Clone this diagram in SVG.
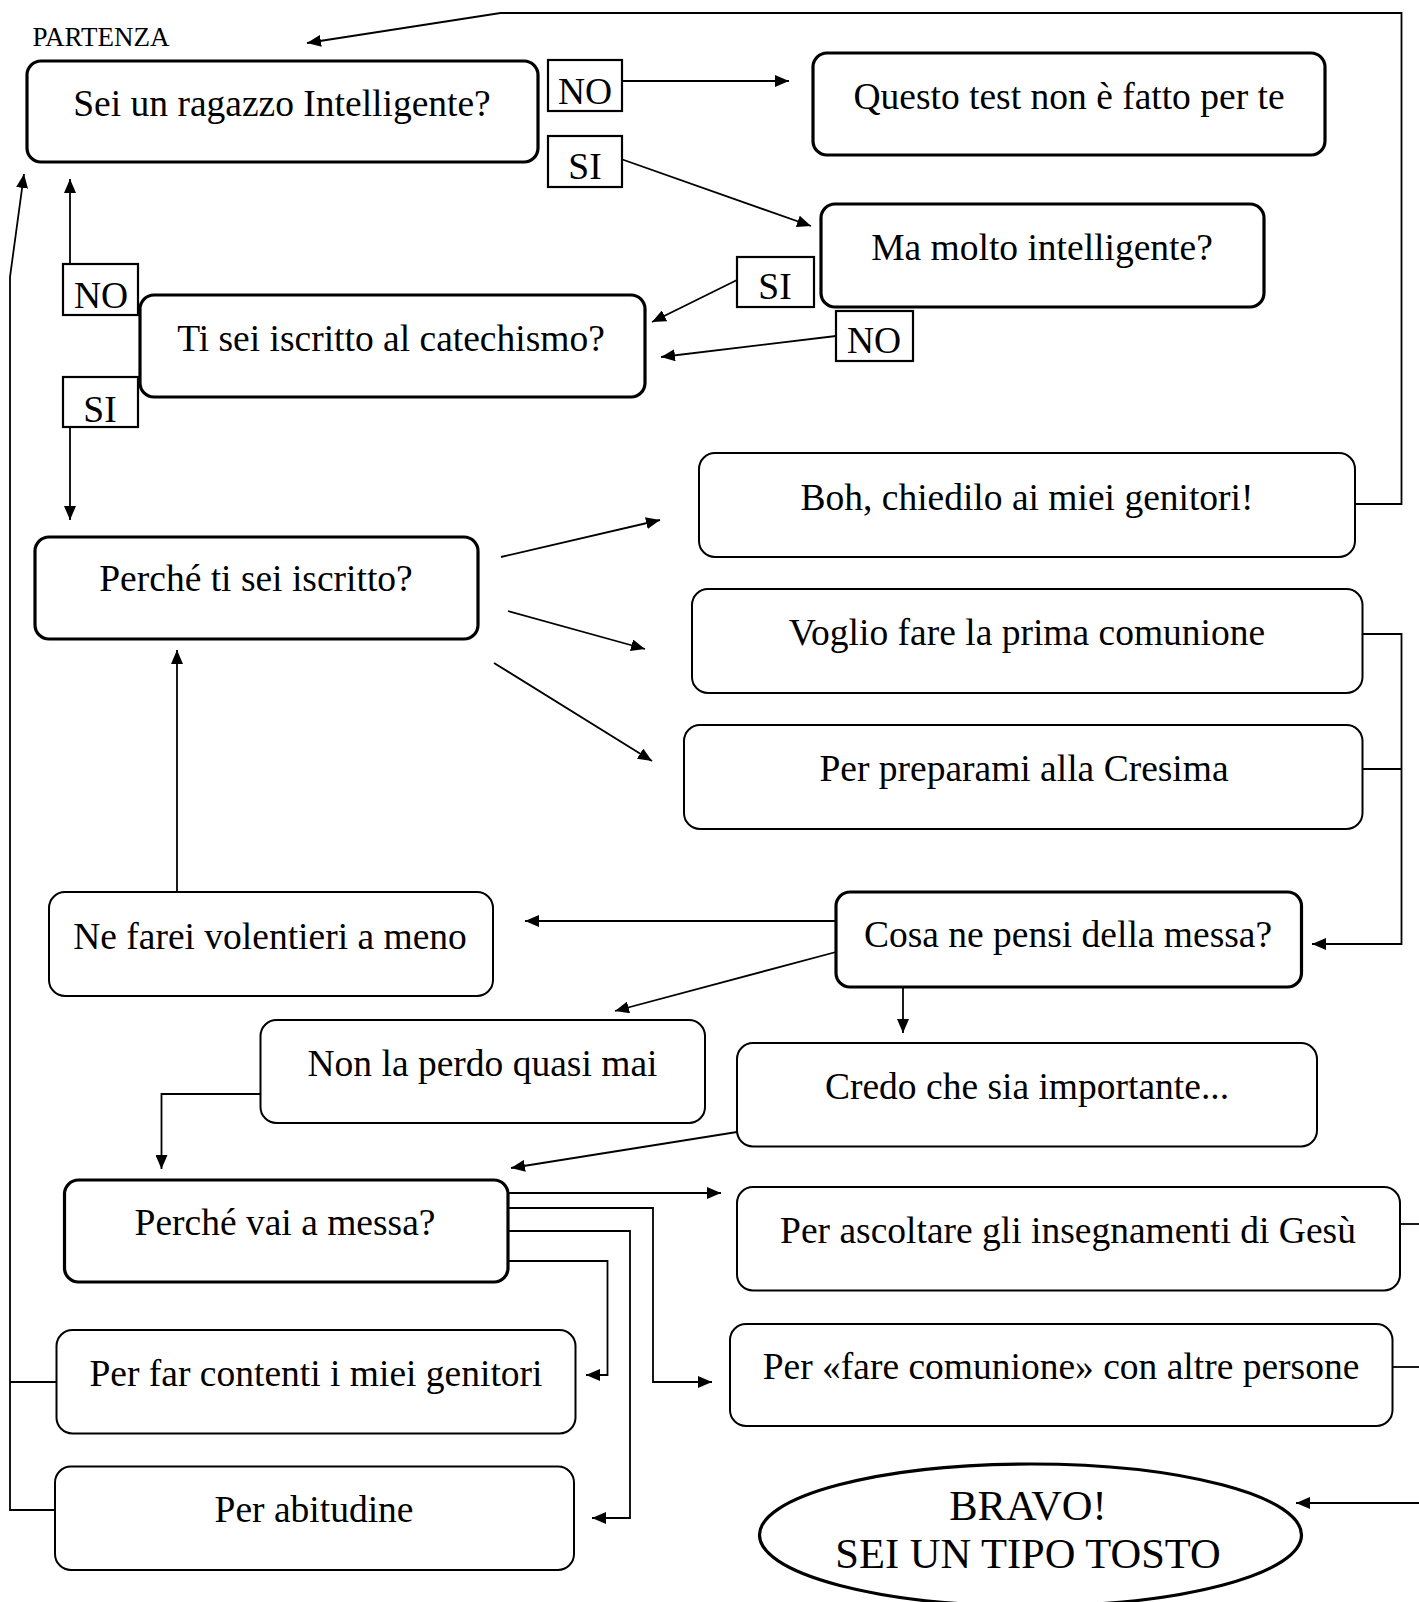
<svg xmlns="http://www.w3.org/2000/svg" width="1419" height="1602" viewBox="0 0 1419 1602">
<style>
text{font-family:"Liberation Serif","Times New Roman",serif;fill:#000;text-anchor:middle}
.t{font-size:37.5px}
.lb{font-size:37.5px}
.thick{fill:#fff;stroke:#000;stroke-width:3.2}
.thin{fill:#fff;stroke:#000;stroke-width:2}
.lbox{fill:#fff;stroke:#000;stroke-width:2.2}
.c{fill:none;stroke:#000;stroke-width:1.8}
</style>
<defs>
<marker id="ah" markerUnits="userSpaceOnUse" markerWidth="15" markerHeight="12" refX="14" refY="6" orient="auto">
<path d="M0,0 L14,6 L0,12 z" fill="#000"/>
</marker>
</defs>
<rect width="1419" height="1602" fill="#fff"/>
<g id="connectors">
<path class="c" d="M1355,504 H1401.5 V13 H500.5 L307,43" marker-end="url(#ah)"/>
<path class="c" d="M622,81 H789" marker-end="url(#ah)"/>
<path class="c" d="M621,159 L811,226" marker-end="url(#ah)"/>
<path class="c" d="M737,280 L652,322" marker-end="url(#ah)"/>
<path class="c" d="M836,336 L661,357" marker-end="url(#ah)"/>
<path class="c" d="M70,264 V179" marker-end="url(#ah)"/>
<path class="c" d="M70,427 V520" marker-end="url(#ah)"/>
<path class="c" d="M56,1382 H10"/>
<path class="c" d="M55,1510 H10 V277 L24,174" marker-end="url(#ah)"/>
<path class="c" d="M501,557 L660,520" marker-end="url(#ah)"/>
<path class="c" d="M508,611 L645,649" marker-end="url(#ah)"/>
<path class="c" d="M494,663 L652,761" marker-end="url(#ah)"/>
<path class="c" d="M1362,769 H1401.5"/>
<path class="c" d="M1362,634 H1401.5 V944 H1312" marker-end="url(#ah)"/>
<path class="c" d="M836,921 H525" marker-end="url(#ah)"/>
<path class="c" d="M177,891 V650" marker-end="url(#ah)"/>
<path class="c" d="M836,952 L615,1011" marker-end="url(#ah)"/>
<path class="c" d="M903,987 V1033" marker-end="url(#ah)"/>
<path class="c" d="M260,1094 H161.5 V1169" marker-end="url(#ah)"/>
<path class="c" d="M737,1132 L511,1168" marker-end="url(#ah)"/>
<path class="c" d="M508,1193 H721" marker-end="url(#ah)"/>
<path class="c" d="M508,1208 H653 V1382 H712" marker-end="url(#ah)"/>
<path class="c" d="M508,1231 H630 V1518 H592" marker-end="url(#ah)"/>
<path class="c" d="M508,1261 H607.5 V1375 H586" marker-end="url(#ah)"/>
<path class="c" d="M1400,1224 H1419"/>
<path class="c" d="M1392,1367 H1419"/>
<path class="c" d="M1419,1503 H1296" marker-end="url(#ah)"/>
</g>
<g id="partenza"><text x="101" y="46" style="font-size:27px">PARTENZA</text></g>
<g id="n-intelligente"><rect class="thick" x="27" y="61" width="511" height="101" rx="14"/><text class="t" x="282" y="116">Sei un ragazzo Intelligente?</text></g>
<g id="n-questo"><rect class="thick" x="813" y="53" width="512" height="102" rx="14"/><text class="t" x="1069" y="109">Questo test non è fatto per te</text></g>
<g id="n-molto"><rect class="thick" x="821" y="204" width="443" height="103" rx="14"/><text class="t" x="1042" y="260">Ma molto intelligente?</text></g>
<g id="n-catechismo"><rect class="thick" x="140" y="295" width="505" height="102" rx="14"/><text class="t" x="391" y="351">Ti sei iscritto al catechismo?</text></g>
<g id="n-perche-iscritto"><rect class="thick" x="35" y="537" width="443" height="102" rx="14"/><text class="t" x="256" y="591">Perché ti sei iscritto?</text></g>
<g id="n-boh"><rect class="thin" x="699" y="453" width="656" height="104" rx="16"/><text class="t" x="1027" y="510">Boh, chiedilo ai miei genitori!</text></g>
<g id="n-comunione"><rect class="thin" x="692" y="589" width="670.5" height="104" rx="16"/><text class="t" x="1027" y="645">Voglio fare la prima comunione</text></g>
<g id="n-cresima"><rect class="thin" x="684" y="725" width="678.5" height="104" rx="16"/><text class="t" x="1024" y="781">Per preparami alla Cresima</text></g>
<g id="n-messa"><rect class="thick" x="836" y="892" width="465.5" height="95" rx="14"/><text class="t" x="1068" y="947">Cosa ne pensi della messa?</text></g>
<g id="n-nefarei"><rect class="thin" x="49" y="892" width="444" height="104" rx="16"/><text class="t" x="270" y="949">Ne farei volentieri a meno</text></g>
<g id="n-nonperdo"><rect class="thin" x="260.5" y="1020" width="444.5" height="103" rx="16"/><text class="t" x="482.5" y="1076">Non la perdo quasi mai</text></g>
<g id="n-credo"><rect class="thin" x="737" y="1043" width="580" height="103.5" rx="16"/><text class="t" x="1027" y="1099">Credo che sia importante...</text></g>
<g id="n-vaimessa"><rect class="thick" x="64.5" y="1180" width="443.5" height="102" rx="14"/><text class="t" x="285" y="1235">Perché vai a messa?</text></g>
<g id="n-ascoltare"><rect class="thin" x="737" y="1187" width="663" height="103.5" rx="16"/><text class="t" x="1068" y="1243">Per ascoltare gli insegnamenti di Gesù</text></g>
<g id="n-farecomunione"><rect class="thin" x="730" y="1324" width="662.5" height="102" rx="16"/><text class="t" x="1061" y="1379">Per «fare comunione» con altre persone</text></g>
<g id="n-contenti"><rect class="thin" x="56.5" y="1330" width="519" height="103.5" rx="16"/><text class="t" x="316" y="1386">Per far contenti i miei genitori</text></g>
<g id="n-abitudine"><rect class="thin" x="55" y="1466.5" width="519" height="103.5" rx="16"/><text class="t" x="314" y="1522">Per abitudine</text></g>
<g id="n-bravo"><ellipse cx="1030.5" cy="1535" rx="271" ry="71" fill="#fff" stroke="#000" stroke-width="3.2"/><text x="1028" y="1520" style="font-size:42.5px">BRAVO!</text><text x="1028" y="1568" style="font-size:42.5px">SEI UN TIPO TOSTO</text></g>
<g id="l-no1"><rect class="lbox" x="548" y="60" width="74" height="51"/><text class="lb" x="585" y="104">NO</text></g>
<g id="l-si1"><rect class="lbox" x="548" y="136" width="74" height="51"/><text class="lb" x="585" y="179">SI</text></g>
<g id="l-si2"><rect class="lbox" x="737" y="257" width="77" height="50"/><text class="lb" x="775" y="299">SI</text></g>
<g id="l-no2"><rect class="lbox" x="836" y="311" width="77" height="50"/><text class="lb" x="874" y="353">NO</text></g>
<g id="l-no3"><rect class="lbox" x="63" y="264" width="75" height="51"/><text class="lb" x="101" y="308">NO</text></g>
<g id="l-si3"><rect class="lbox" x="63" y="377" width="75" height="50"/><text class="lb" x="100" y="422">SI</text></g>
</svg>
